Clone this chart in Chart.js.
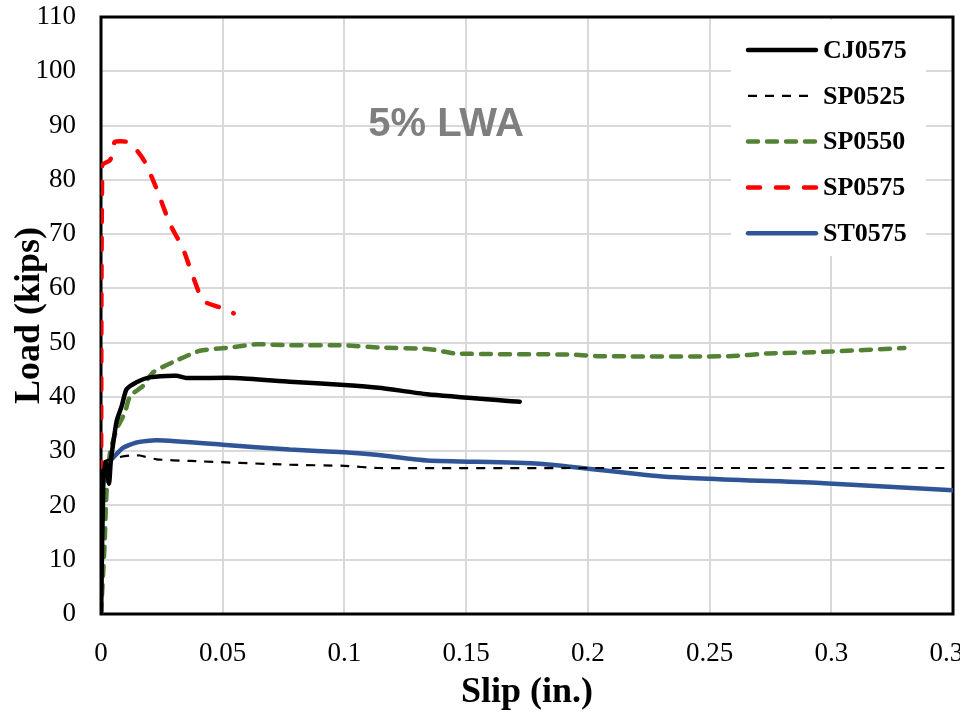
<!DOCTYPE html>
<html>
<head>
<meta charset="utf-8">
<title>5% LWA - Load vs Slip</title>
<script src="https://cdn.jsdelivr.net/npm/chart.js@4.4.1/dist/chart.umd.min.js"></script>
<style>
  html,body{margin:0;padding:0;background:#fff;overflow:hidden;}
  canvas{display:block;}
</style>
</head>
<body>
<canvas id="slipChart" width="960" height="716"></canvas>
<script>
// load-slip curves (slip in., load kips)
const cj0575Slip = [0, 0.001, 0.002, 0.0033, 0.004, 0.0055, 0.0065, 0.0085, 0.0105, 0.0146, 0.02, 0.031, 0.035, 0.055, 0.0775, 0.1, 0.114, 0.134, 0.172];
const cj0575Load = [0, 25, 28, 24, 28, 33, 35.7, 38.3, 41.4, 42.7, 43.6, 43.9, 43.5, 43.5, 42.8, 42.2, 41.7, 40.5, 39.1];

const sp0525Slip = [0, 0.0004, 0.0064, 0.012, 0.016, 0.0228, 0.0365, 0.0775, 0.1, 0.114, 0.2, 0.35];
const sp0525Load = [0, 27.7, 28.8, 29.2, 29.2, 28.5, 28.2, 27.5, 27.3, 26.9, 26.9, 26.9];

const sp0550Slip = [0, 0.0015, 0.002, 0.0025, 0.0037, 0.0064, 0.0098, 0.012, 0.0172, 0.0213, 0.0295, 0.0406, 0.053, 0.0638, 0.0775, 0.1, 0.114, 0.135, 0.146, 0.193, 0.205, 0.258, 0.274, 0.297, 0.33];
const sp0550Load = [0, 13, 20, 24, 29.7, 34, 37.1, 40.2, 42, 44.5, 46.4, 48.5, 49.1, 49.7, 49.5, 49.5, 49.1, 48.8, 48, 47.8, 47.5, 47.5, 48, 48.3, 49];

const sp0575Slip = [0, 0.0005, 0.0037, 0.005, 0.0057, 0.0105, 0.0146, 0.018, 0.0228, 0.0283, 0.0337, 0.0377, 0.042, 0.0488, 0.0545];
const sp0575Load = [0, 82.7, 83.6, 85.8, 87, 87, 85.5, 83.3, 78.4, 71.9, 67.3, 62.3, 57.7, 56.5, 55.4];

const st0575Slip = [0, 0.0002, 0.0037, 0.009, 0.0146, 0.0228, 0.05, 0.0775, 0.1, 0.114, 0.134, 0.18, 0.232, 0.297, 0.35];
const st0575Load = [0, 27.2, 28.2, 30.6, 31.6, 32, 31.2, 30.3, 29.8, 29.3, 28.3, 27.7, 25.3, 24.1, 22.8];

const seriesNames = ['CJ0575', 'SP0525', 'SP0550', 'SP0575', 'ST0575'];
const xTickLabels = ['0', '0.05', '0.1', '0.15', '0.2', '0.25', '0.3', '0.35'];
const yTickLabels = ['0', '10', '20', '30', '40', '50', '60', '70', '80', '90', '100', '110'];

function pairs(xs, ys){ return xs.map((x,i)=>({ x, y: ys[i] })); }

const SERIF = '"Liberation Serif", "Times New Roman", serif';

// black box round the plot area (drawn under the curves)
const frame = {
  id: 'frame',
  beforeDatasetsDraw(chart){
    const { ctx, chartArea: a } = chart;
    ctx.save();
    ctx.strokeStyle = '#000'; ctx.lineWidth = 3;
    ctx.strokeRect(a.left, a.top, a.right - a.left, a.bottom - a.top);
    ctx.restore();
  }
};

// "5% LWA" note + legend box in the top right corner
const overlay = {
  id: 'overlay',
  afterDatasetsDraw(chart){
    const ctx = chart.ctx;
    ctx.save();
    ctx.font = 'bold 40px "Liberation Sans", Arial, sans-serif';
    ctx.fillStyle = '#7f7f7f';
    ctx.textAlign = 'center'; ctx.textBaseline = 'alphabetic';
    ctx.fillText('5% LWA', 446, 136);

    ctx.fillStyle = '#fff';
    ctx.fillRect(731, 20, 195, 236);
    ctx.font = 'bold 26px ' + SERIF;
    ctx.textAlign = 'left'; ctx.textBaseline = 'middle';
    chart.data.datasets.forEach((ds, i)=>{
      const y = 50 + i * 45.8;
      ctx.beginPath();
      ctx.strokeStyle = ds.borderColor;
      ctx.lineWidth = ds.borderWidth;
      ctx.lineCap = ds.borderCapStyle || 'butt';
      ctx.setLineDash(ds.borderDash || []);
      ctx.moveTo(748, y); ctx.lineTo(816, y);
      ctx.stroke();
      ctx.setLineDash([]);
      ctx.fillStyle = '#000';
      ctx.fillText(ds.label, 823, y + 1);
    });
    ctx.restore();
  }
};

const ctx = document.getElementById('slipChart').getContext('2d');
new Chart(ctx, {
  type: 'scatter',
  data: {
    datasets: [
      { label: seriesNames[0], data: pairs(cj0575Slip, cj0575Load), borderColor: '#000000', borderWidth: 4.5, borderCapStyle: 'round' },
      { label: seriesNames[1], data: pairs(sp0525Slip, sp0525Load), borderColor: '#000000', borderWidth: 2.2, borderDash: [9, 8] },
      { label: seriesNames[2], data: pairs(sp0550Slip, sp0550Load), borderColor: '#548235', borderWidth: 4.5, borderDash: [10, 9], borderCapStyle: 'round' },
      { label: seriesNames[3], data: pairs(sp0575Slip, sp0575Load), borderColor: '#ff0000', borderWidth: 4.5, borderDash: [12, 16], borderCapStyle: 'round' },
      { label: seriesNames[4], data: pairs(st0575Slip, st0575Load), borderColor: '#2f5597', borderWidth: 4.5, borderCapStyle: 'round' }
    ].map(d => Object.assign({ showLine: true, pointRadius: 0, tension: 0.2, fill: false, borderJoinStyle: 'round' }, d))
  },
  options: {
    responsive: false,
    animation: false,
    devicePixelRatio: 1,
    layout: { padding: { top: 17, right: 7, left: 0, bottom: 0 } },
    plugins: { legend: { display: false }, tooltip: { enabled: false } },
    scales: {
      x: {
        type: 'linear', min: 0, max: 0.35,
        afterFit(s){ s.height = 102; s.paddingLeft = 0; s.paddingRight = 0; },
        grid: { color: '#d9d9d9', lineWidth: 2, drawTicks: false },
        border: { display: false },
        ticks: {
          stepSize: 0.05, padding: 24, color: '#000', maxRotation: 0, autoSkip: false,
          font: { family: SERIF, size: 27 },
          callback: (v, i) => xTickLabels[i]
        },
        title: { display: true, text: 'Slip (in.)', color: '#000', padding: { top: 0, bottom: 5 },
          font: { family: SERIF, size: 36, weight: 'bold', lineHeight: 1 } }
      },
      y: {
        min: 0, max: 110,
        afterFit(s){ s.width = 101; s.paddingTop = 0; s.paddingBottom = 0; },
        grid: { color: '#d9d9d9', lineWidth: 2, drawTicks: false },
        border: { display: false },
        ticks: {
          stepSize: 10, padding: 25, color: '#000',
          font: { family: SERIF, size: 27 },
          callback: (v, i) => yTickLabels[i]
        },
        title: { display: true, text: 'Load (kips)', color: '#000', padding: { top: 12, bottom: 0 },
          font: { family: SERIF, size: 36, weight: 'bold', lineHeight: 1 } }
      }
    }
  },
  plugins: [frame, overlay]
});
</script>
</body>
</html>
